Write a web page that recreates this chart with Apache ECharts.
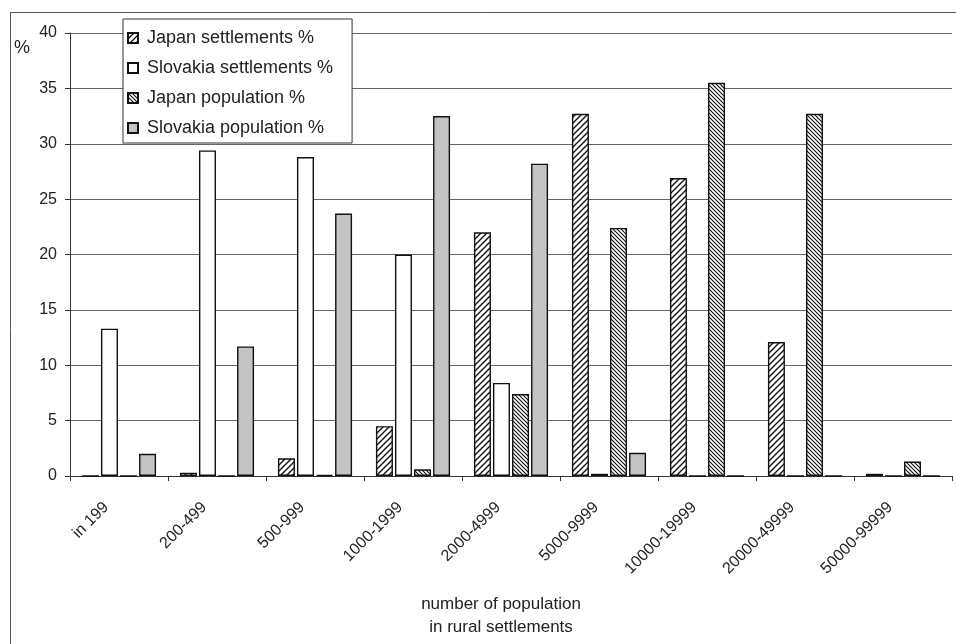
<!DOCTYPE html>
<html>
<head>
<meta charset="utf-8">
<script src="https://cdn.jsdelivr.net/npm/echarts@6/dist/echarts.min.js"></script>
<style>
html,body{margin:0;padding:0;background:#fff;}
#chart{width:956px;height:644px;}
</style>
</head>
<body>
<div id="chart"></div>
<script>
const categories = ['in 199','200-499','500-999','1000-1999','2000-4999','5000-9999','10000-19999','20000-49999','50000-99999'];
const japanSettlements   = [0, 0.3, 1.6, 4.5, 22.0, 32.7, 26.9, 12.1, 0.2];
const slovakiaSettlements = [13.3, 29.4, 28.8, 20.0, 8.4, 0.2, 0, 0, 0];
const japanPopulation    = [0, 0, 0.1, 0.6, 7.4, 22.4, 35.5, 32.7, 1.3];
const slovakiaPopulation = [2.0, 11.7, 23.7, 32.5, 28.2, 2.1, 0, 0, 0];
const seriesNames = ['Japan settlements %','Slovakia settlements %','Japan population %','Slovakia population %'];
const yTicks = [0,5,10,15,20,25,30,35,40];

function hatch(size, dir, lw) {
  const c = document.createElement('canvas');
  c.width = size; c.height = size;
  const g = c.getContext('2d');
  g.fillStyle = '#fff'; g.fillRect(0,0,size,size);
  g.strokeStyle = '#111'; g.lineWidth = lw;
  g.beginPath();
  if (dir === 'up') {
    g.moveTo(-1, size+1); g.lineTo(size+1, -1);
    g.moveTo(-1, 1); g.lineTo(1, -1);
    g.moveTo(size-1, size+1); g.lineTo(size+1, size-1);
  } else {
    g.moveTo(-1, -1); g.lineTo(size+1, size+1);
    g.moveTo(size-1, -1); g.lineTo(size+1, 1);
    g.moveTo(-1, size-1); g.lineTo(1, size+1);
  }
  g.stroke();
  return {image: c, repeat: 'repeat'};
}

const patJS = hatch(6, 'up', 1.4);
const patJP = hatch(4, 'down', 1.1);
const fills = [patJS, '#ffffff', patJP, '#c4c4c4'];
const datas = [japanSettlements, slovakiaSettlements, japanPopulation, slovakiaPopulation];
const font = '"Liberation Sans", Arial, sans-serif';

const chart = echarts.init(document.getElementById('chart'), null, {renderer:'canvas'});
chart.setOption({
  animation: false,
  backgroundColor: '#fff',
  textStyle: {fontFamily: font},
  grid: {left: 70, top: 33, right: 4, bottom: 168, containLabel: false, outerBoundsMode: 'none'},
  legend: {
    orient: 'vertical', left: 123, top: 19,
    data: seriesNames,
    backgroundColor: '#fff', borderColor: '#333', borderWidth: 1,
    padding: [10, 19, 6, 4],
    itemWidth: 10, itemHeight: 10, itemGap: 12,
    icon: 'rect',
    textStyle: {fontSize: 18, color: '#222', fontFamily: font, padding: [0,0,0,4]}
  },
  xAxis: {
    type: 'category', data: categories,
    axisLine: {lineStyle: {color: '#333', width: 1}},
    axisTick: {show: true, length: 5, lineStyle: {color: '#333'}},
    axisLabel: {rotate: 45, margin: 16, fontSize: 16, color: '#222', interval: 0, padding: [0, 18, 0, 0]},
    name: 'number of population\nin rural settlements',
    nameLocation: 'middle', nameGap: 117,
    nameTextStyle: {fontSize: 17, color: '#222', lineHeight: 23, padding: [0, 20, 0, 0]}
  },
  yAxis: {
    type: 'value', min: 0, max: 40, interval: 5,
    axisLine: {show: true, lineStyle: {color: '#333', width: 1}},
    axisTick: {show: true, length: 5, lineStyle: {color: '#333'}},
    axisLabel: {margin: 13, fontSize: 16, color: '#222'},
    splitLine: {lineStyle: {color: '#666', width: 1}}
  },
  graphic: [
    {type: 'rect', left: 8, top: 10, shape: {width: 960, height: 632}, style: {fill: 'none', stroke: '#555', lineWidth: 1}, silent: true},
    {type: 'text', left: 14, top: 39, style: {text: '%', font: '18px ' + font, fill: '#222'}}
  ],
  series: seriesNames.map((n, i) => ({
    name: n, type: 'bar', data: datas[i],
    barWidth: 17, barGap: '12%',
    itemStyle: {color: fills[i], borderColor: '#111', borderWidth: 1.4}
  }))
});
</script>
</body>
</html>
